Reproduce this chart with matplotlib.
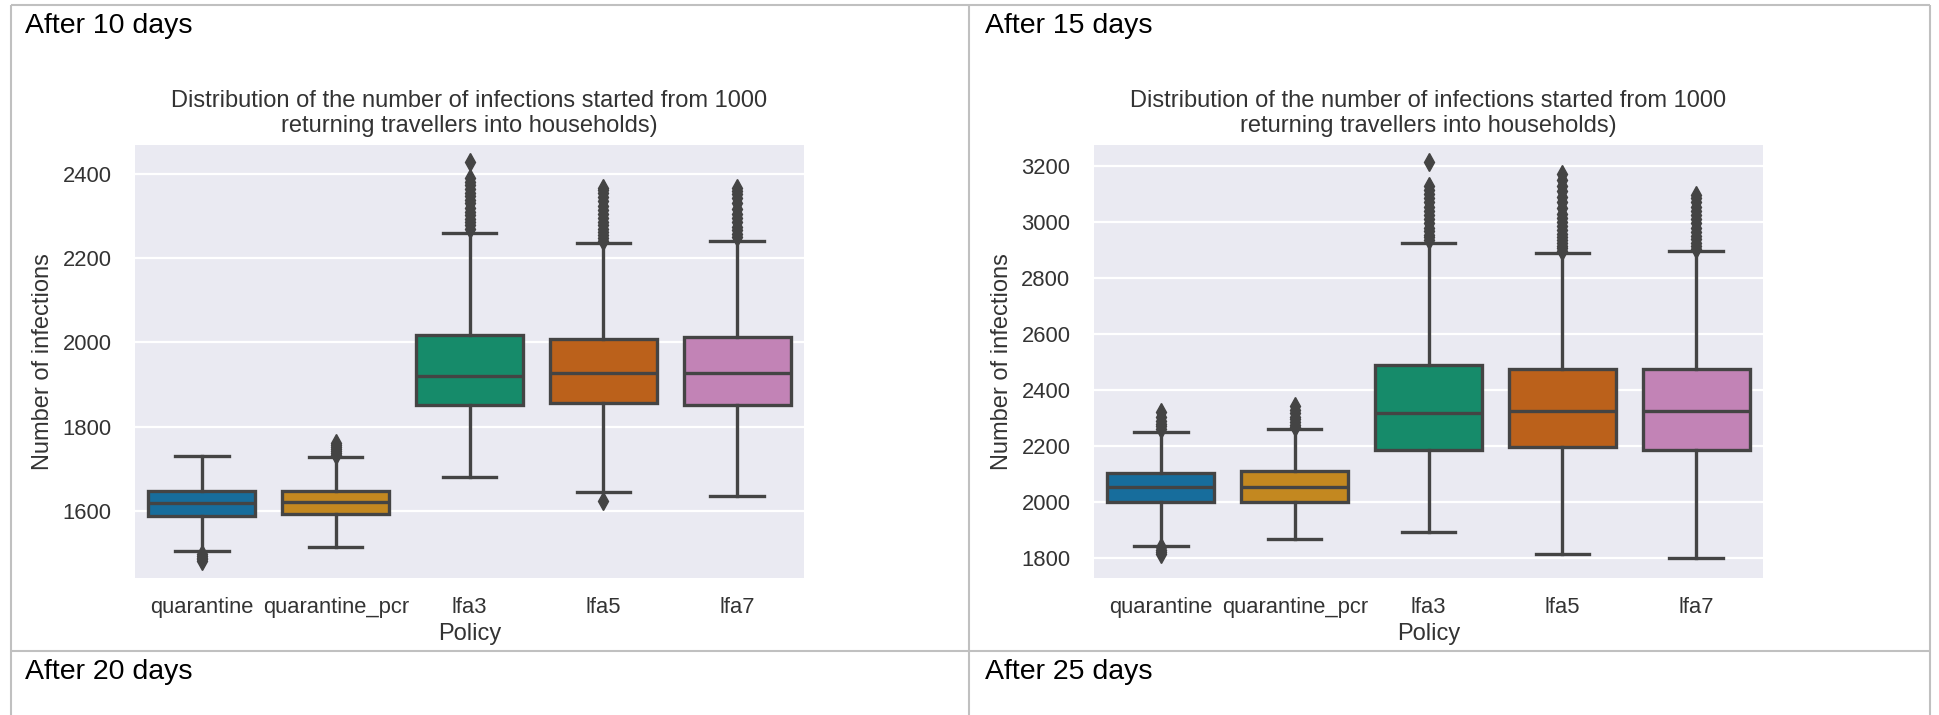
import matplotlib
matplotlib.use("Agg")
import matplotlib.pyplot as plt

# ---------------------------------------------------------------------------
# Data
# ---------------------------------------------------------------------------

POLICIES = ["quarantine", "quarantine_pcr", "lfa3", "lfa5", "lfa7"]
COLORS = ["#176D9C", "#C38820", "#168B6A", "#BB611B", "#C283B6"]

# After 10 days
D10_WHISLO = [1503, 1513, 1679, 1645, 1636]
D10_Q1 = [1587, 1592, 1851, 1855, 1851]
D10_MED = [1618, 1620, 1921, 1926, 1926]
D10_Q3 = [1647, 1647, 2017, 2007, 2012]
D10_WHISHI = [1731, 1727, 2259, 2237, 2241]
D10_FLIERS = [
    [1497, 1492, 1488, 1484, 1480],
    [1733, 1738, 1742, 1747, 1752, 1757, 1762],
    [2270, 2278, 2286, 2294, 2302, 2310, 2320, 2330, 2338, 2348, 2356, 2365,
     2373, 2381, 2390, 2429],
    [1624, 2242, 2248, 2255, 2262, 2270, 2278, 2286, 2295, 2305, 2315, 2325,
     2335, 2345, 2355, 2362, 2368],
    [2250, 2258, 2266, 2275, 2285, 2296, 2306, 2318, 2330, 2342, 2352, 2360,
     2366],
]
D10_YLIM = (1440, 2469)

# After 15 days
D15_WHISLO = [1844, 1867, 1894, 1814, 1801]
D15_Q1 = [2001, 2001, 2186, 2195, 2186]
D15_MED = [2055, 2055, 2317, 2325, 2325]
D15_Q3 = [2105, 2111, 2489, 2474, 2474]
D15_WHISHI = [2251, 2260, 2924, 2888, 2896]
D15_FLIERS = [
    [2262, 2270, 2278, 2290, 2305, 2320, 1838, 1830, 1822, 1814],
    [2268, 2276, 2285, 2295, 2305, 2318, 2330, 2342],
    [2935, 2945, 2955, 2968, 2980, 2995, 3010, 3025, 3040, 3055, 3070, 3085,
     3100, 3115, 3130, 3215],
    [2898, 2906, 2915, 2925, 2935, 2945, 2958, 2970, 2985, 3000, 3015, 3030,
     3050, 3070, 3090, 3110, 3130, 3150, 3170],
    [2905, 2915, 2925, 2938, 2950, 2965, 2980, 2995, 3010, 3025, 3040, 3055,
     3070, 3085, 3095],
]
D15_YLIM = (1729, 3275)

CELL_TITLES = ["After 10 days", "After 15 days", "After 20 days", "After 25 days"]
CHART_TITLE = ("Distribution of the number of infections started from 1000\n"
               "returning travellers into households)")

# ---------------------------------------------------------------------------
# Plot
# ---------------------------------------------------------------------------

plt.rcParams["font.family"] = ["Liberation Sans", "DejaVu Sans"]
W, H = 1939, 715
fig = plt.figure(figsize=(W / 100, H / 100), dpi=100)

# table frame drawn on a pixel-space overlay
frame = fig.add_axes([0, 0, 1, 1])
frame.set_xlim(0, W)
frame.set_ylim(H, 0)
frame.axis("off")
border = dict(color="#c0c0c0", lw=1.5, solid_capstyle="butt")
frame.plot([11, 1930], [4.5, 4.5], **border)
frame.plot([11, 11], [4.5, H], **border)
frame.plot([969, 969], [4.5, H], **border)
frame.plot([1930, 1930], [4.5, H], **border)
frame.plot([11, 1930], [650.5, 650.5], **border)

for title, (x, y) in zip(CELL_TITLES, [(25, 33), (985, 33), (25, 679), (985, 679)]):
    fig.text(x / W, 1 - y / H, title, fontsize=20.5, color="black",
             ha="left", va="baseline")

GRAY = "#444444"
TEXT = "#333333"
LW = 2.4


def draw_box(left_px, whislo, q1, med, q3, whishi, fliers, ylim):
    ax = fig.add_axes([left_px / W, 1 - 578 / H, 669 / W, 433 / H])
    ax.set_facecolor("#EAEAF2")
    stats = [dict(label=p, whislo=a, q1=b, med=c, q3=d, whishi=e, fliers=f)
             for p, a, b, c, d, e, f in zip(POLICIES, whislo, q1, med, q3, whishi, fliers)]
    bp = ax.bxp(stats, positions=range(len(POLICIES)), widths=0.8, patch_artist=True,
                boxprops=dict(edgecolor=GRAY, linewidth=LW),
                whiskerprops=dict(color=GRAY, linewidth=LW),
                capprops=dict(color=GRAY, linewidth=LW),
                medianprops=dict(color=GRAY, linewidth=LW),
                flierprops=dict(marker="d", markerfacecolor=GRAY, markeredgecolor=GRAY,
                                markersize=9))
    for patch, c in zip(bp["boxes"], COLORS):
        patch.set_facecolor(c)
    ax.set_xlim(-0.5, len(POLICIES) - 0.5)
    ax.set_ylim(*ylim)
    ax.yaxis.grid(True, color="white", lw=1.6)
    ax.xaxis.grid(False)
    ax.set_axisbelow(True)
    for s in ax.spines.values():
        s.set_visible(False)
    ax.tick_params(axis="x", length=0, pad=14, labelsize=15.8, labelcolor=TEXT)
    ax.tick_params(axis="y", length=0, pad=17, labelsize=15.8, labelcolor=TEXT)
    ax.set_xticks(range(len(POLICIES)))
    ax.set_xticklabels(POLICIES)
    ax.set_xlabel("Policy", fontsize=17, color=TEXT, labelpad=3)
    ax.set_ylabel("Number of infections", fontsize=17, color=TEXT, labelpad=6)
    ax.set_title(CHART_TITLE, fontsize=17, color=TEXT, pad=9.5, linespacing=1.15)
    return ax


draw_box(135, D10_WHISLO, D10_Q1, D10_MED, D10_Q3, D10_WHISHI, D10_FLIERS, D10_YLIM)
draw_box(1094, D15_WHISLO, D15_Q1, D15_MED, D15_Q3, D15_WHISHI, D15_FLIERS, D15_YLIM)

fig.savefig("out.png", dpi=100)
